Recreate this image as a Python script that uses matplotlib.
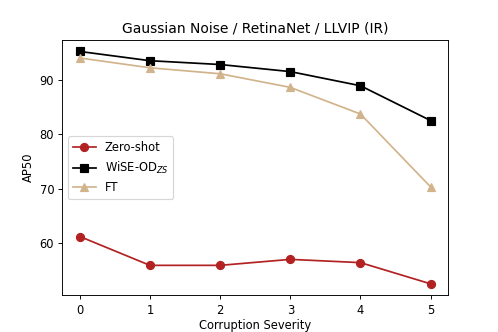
import numpy as np
import matplotlib
matplotlib.use("Agg")
import matplotlib.pyplot as plt

severity = [0, 1, 2, 3, 4, 5]
zero_shot = [61.2, 55.9, 55.9, 57.0, 56.4, 52.5]
wise_od = [95.2, 93.5, 92.8, 91.5, 88.9, 82.5]
ft = [94.0, 92.2, 91.1, 88.6, 83.7, 70.3]


def main():
    fig, ax = plt.subplots(figsize=(6, 4), dpi=83)

    ax.plot(severity, zero_shot, '-o', color='firebrick', markersize=7,
            label='Zero-shot')
    ax.plot(severity, wise_od, '-s', color='black', markersize=7,
            label='WiSE-OD$_{ZS}$')
    ax.plot(severity, ft, '-^', color='tan', markersize=7, label='FT')

    ax.set_title('Gaussian Noise / RetinaNet / LLVIP (IR)')
    ax.set_xlabel('Corruption Severity', labelpad=2)
    ax.set_ylabel('AP50')
    ax.set_xticks(severity)
    ax.legend(loc='center left')

    fig.savefig('out.png', dpi=83)


if __name__ == "__main__":
    main()
